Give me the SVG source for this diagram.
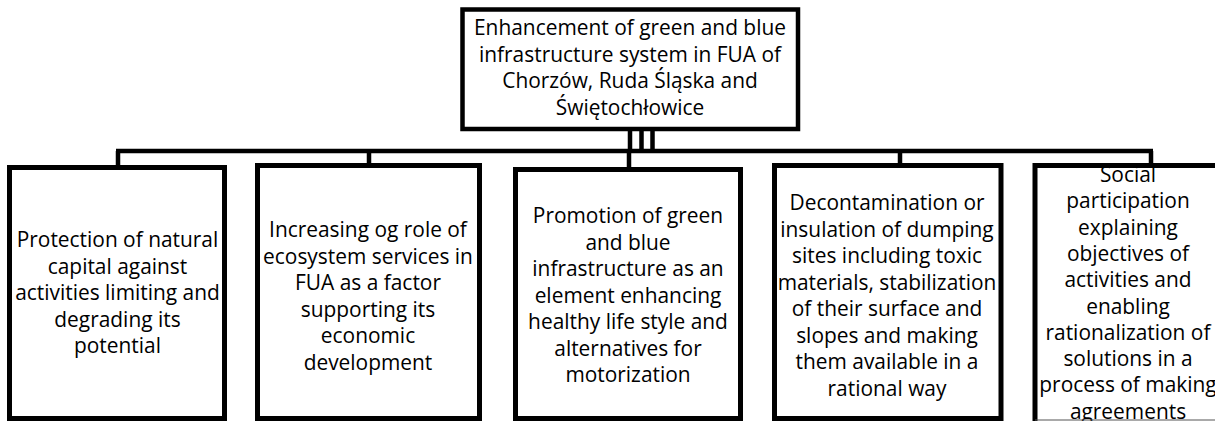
<svg xmlns="http://www.w3.org/2000/svg" width="1215" height="421" viewBox="0 0 1215 421">
<style>
.box{fill:#fff;stroke:#000;stroke-width:5}
.conn{fill:none;stroke:#000;stroke-width:4.5}
text{font-family:"Open Sans","Noto Sans",sans-serif;font-size:20.9px;fill:#000;text-anchor:middle}
</style>
<rect width="1215" height="421" fill="#fff"/>
<g id="connectors">
<path class="conn" d="M630 131V151M641.5 131V151M652.5 131V151"/>
<path class="conn" d="M116 151H1153"/>
<path class="conn" d="M118 151V167M369 151V165M629 151V169M900 151V165M1151 151V165"/>
</g>
<g id="root">
<rect class="box" x="462.5" y="9.5" width="335.5" height="119.5" style="stroke-width:4.5"/>
<text x="630"><tspan x="630" y="35">Enhancement of green and blue</tspan><tspan x="630" y="61.5">infrastructure system in FUA of</tspan><tspan x="630" y="88">Chorzów, Ruda Śląska and</tspan><tspan x="630" y="114.5">Świętochłowice</tspan></text>
</g>
<g id="n1">
<rect class="box" x="9.5" y="167.5" width="215" height="251"/>
<text><tspan x="117.5" y="247">Protection of natural</tspan><tspan x="117.5" y="273.5">capital against</tspan><tspan x="117.5" y="300">activities limiting and</tspan><tspan x="117.5" y="326.5">degrading its</tspan><tspan x="117.5" y="353">potential</tspan></text>
</g>
<g id="n2">
<rect class="box" x="257.5" y="165.5" width="222" height="253"/>
<text><tspan x="368" y="237">Increasing og role of</tspan><tspan x="368" y="263.5">ecosystem services in</tspan><tspan x="368" y="290">FUA as a factor</tspan><tspan x="368" y="316.5">supporting its</tspan><tspan x="368" y="343">economic</tspan><tspan x="368" y="369.5">development</tspan></text>
</g>
<g id="n3">
<rect class="box" x="515.5" y="169.5" width="225" height="249"/>
<text><tspan x="628" y="223">Promotion of green</tspan><tspan x="628" y="249.5">and blue</tspan><tspan x="628" y="276">infrastructure as an</tspan><tspan x="628" y="302.5">element enhancing</tspan><tspan x="628" y="329">healthy life style and</tspan><tspan x="628" y="355.5">alternatives for</tspan><tspan x="628" y="382">motorization</tspan></text>
</g>
<g id="n4">
<rect class="box" x="774.5" y="165.5" width="226.5" height="253"/>
<text><tspan x="887" y="210">Decontamination or</tspan><tspan x="887" y="236.5">insulation of dumping</tspan><tspan x="887" y="263">sites including toxic</tspan><tspan x="887" y="289.5">materials, stabilization</tspan><tspan x="887" y="316">of their surface and</tspan><tspan x="887" y="342.5">slopes and making</tspan><tspan x="887" y="369">them available in a</tspan><tspan x="887" y="395.5">rational way</tspan></text>
</g>
<g id="n5">
<rect x="1035" y="165.5" width="185" height="255" fill="#fff"/>
<text><tspan x="1128" y="182">Social</tspan><tspan x="1128" y="208.3">participation</tspan><tspan x="1128" y="234.6">explaining</tspan><tspan x="1128" y="260.9">objectives of</tspan><tspan x="1128" y="287.2">activities and</tspan><tspan x="1128" y="313.5">enabling</tspan><tspan x="1128" y="339.8">rationalization of</tspan><tspan x="1128" y="366.1">solutions in a</tspan><tspan x="1128" y="392.4">process of making</tspan><tspan x="1128" y="418.7">agreements</tspan></text>
<path d="M1035 421V165.5H1215" fill="none" stroke="#000" stroke-width="5"/>
<path d="M1035 420H1215" fill="none" stroke="#555" stroke-width="1"/>
</g>
</svg>
